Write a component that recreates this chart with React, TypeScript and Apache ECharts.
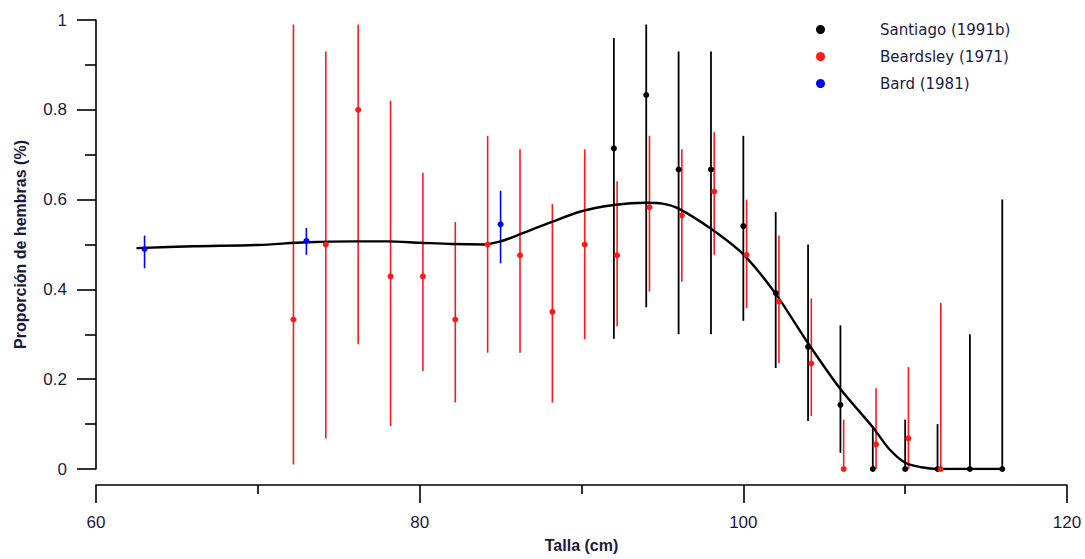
import React, { useEffect, useRef } from "react";
import * as echarts from "echarts";

// Santiago (1991b)
const santiagoX = [92, 94, 96, 98, 100, 102, 104, 106, 108, 110, 112, 114, 116];
const santiagoY = [0.714, 0.833, 0.667, 0.667, 0.541, 0.392, 0.272, 0.143, 0, 0, 0, 0, 0];
const santiagoLo = [0.29, 0.36, 0.3, 0.3, 0.33, 0.225, 0.107, 0.036, 0, 0, 0, 0, 0];
const santiagoHi = [0.96, 0.99, 0.93, 0.93, 0.742, 0.572, 0.5, 0.32, 0.095, 0.11, 0.1, 0.3, 0.6];

// Beardsley (1971)
const beardsleyX = [72.2, 74.2, 76.2, 78.2, 80.2, 82.2, 84.2, 86.2, 88.2, 90.2, 92.2, 94.2, 96.2, 98.2, 100.2, 102.2, 104.2, 106.2, 108.2, 110.2, 112.2];
const beardsleyY = [0.333, 0.5, 0.8, 0.429, 0.429, 0.333, 0.5, 0.476, 0.35, 0.5, 0.476, 0.583, 0.565, 0.618, 0.477, 0.373, 0.235, 0, 0.055, 0.068, 0];
const beardsleyLo = [0.01, 0.068, 0.278, 0.096, 0.218, 0.148, 0.259, 0.259, 0.148, 0.289, 0.318, 0.395, 0.417, 0.477, 0.358, 0.236, 0.118, 0, 0, 0, 0];
const beardsleyHi = [0.99, 0.93, 0.99, 0.82, 0.66, 0.55, 0.742, 0.712, 0.59, 0.712, 0.641, 0.742, 0.712, 0.75, 0.6, 0.52, 0.38, 0.11, 0.18, 0.227, 0.37];

// Bard (1981)
const bardX = [63, 73, 85];
const bardY = [0.49, 0.508, 0.545];
const bardLo = [0.447, 0.477, 0.458];
const bardHi = [0.52, 0.537, 0.62];

// Fitted curve
const curveX = [62.5, 66, 70, 73, 76, 78, 80, 82, 84, 85, 86, 88, 90, 92, 94, 95, 96, 98, 100, 102, 104, 106, 108, 109, 110, 111, 112, 114, 116];
const curveY = [0.492, 0.496, 0.499, 0.505, 0.507, 0.507, 0.504, 0.501, 0.5, 0.507, 0.52, 0.548, 0.574, 0.588, 0.593, 0.591, 0.58, 0.535, 0.478, 0.39, 0.28, 0.178, 0.093, 0.045, 0.014, 0.004, 0, 0, 0];

const xTicks = [60, 80, 100, 120];
const yTicks = [0, 0.2, 0.4, 0.6, 0.8, 1];

const names = ["Santiago (1991b)", "Beardsley (1971)", "Bard (1981)"];
const colors = ["#000000", "#ff1a1a", "#0000ff"];

const tickFont = '"Liberation Sans Narrow", "Arial Narrow", "Liberation Sans", Arial, sans-serif';

export default function App() {
  const ref = useRef<HTMLDivElement>(null);
  useEffect(() => {
    document.body.style.margin = "0";
    const chart = echarts.init(ref.current!, null, { renderer: "svg" });

    const errBar = (name: string, xs: number[], lo: number[], hi: number[], color: string, width: number) => ({
      type: "custom",
      name,
      z: 2,
      silent: true,
      itemStyle: { color },
      data: xs.map((x, i) => [x, lo[i], hi[i]]),
      encode: { x: 0, y: [1, 2] },
      renderItem: (_p: any, api: any) => {
        const a = api.coord([api.value(0), api.value(1)]);
        const b = api.coord([api.value(0), api.value(2)]);
        return {
          type: "line",
          shape: { x1: a[0], y1: a[1], x2: b[0], y2: b[1] },
          style: { stroke: color, lineWidth: width },
        };
      },
    });

    const scatter = (name: string, xs: number[], ys: number[], color: string) => ({
      type: "scatter",
      name,
      z: 5,
      symbol: "circle",
      symbolSize: 6,
      itemStyle: { color, opacity: 1 },
      data: xs.map((x, i) => [x, ys[i]]),
    });

    const lineStyle = { color: "#000", width: 1.6 };

    chart.setOption({
      animation: false,
      grid: { left: 96, right: 18, top: 20, bottom: 90, containLabel: false },
      legend: {
        orient: "vertical",
        left: 811,
        top: 17,
        itemWidth: 9,
        itemHeight: 9,
        itemGap: 12,
        selectedMode: false,
        data: names.map((n) => ({ name: n, icon: "circle", itemStyle: { opacity: 1 } })),
        textStyle: {
          fontFamily: '"DejaVu Sans", sans-serif',
          fontSize: 15,
          color: "#1a1a40",
          padding: [0, 0, 0, 50],
        },
      },
      xAxis: {
        type: "value",
        min: xTicks[0],
        max: xTicks[xTicks.length - 1],
        interval: 20,
        offset: 16,
        name: "Talla (cm)",
        nameLocation: "middle",
        nameGap: 52,
        nameTextStyle: { fontFamily: tickFont, fontSize: 16, fontWeight: "bold", color: "#1a1a40" },
        axisLine: { show: true, onZero: false, lineStyle },
        axisTick: { show: true, inside: false, length: 18, lineStyle },
        minorTick: { show: true, splitNumber: 2, length: 9, lineStyle },
        splitLine: { show: false },
        minorSplitLine: { show: false },
        axisLabel: { margin: 29, fontFamily: tickFont, fontSize: 17, color: "#1a1a40" },
      },
      yAxis: {
        type: "value",
        min: yTicks[0],
        max: yTicks[yTicks.length - 1],
        interval: 0.2,
        name: "Proporción de hembras (%)",
        nameLocation: "middle",
        nameGap: 68,
        nameTextStyle: { fontFamily: tickFont, fontSize: 16, fontWeight: "bold", color: "#1a1a40" },
        axisLine: { show: true, onZero: false, lineStyle },
        axisTick: { show: true, inside: false, length: 19, lineStyle },
        minorTick: { show: true, splitNumber: 2, length: 11, lineStyle },
        splitLine: { show: false },
        minorSplitLine: { show: false },
        axisLabel: { margin: 29, fontFamily: tickFont, fontSize: 17, color: "#1a1a40" },
      },
      series: [
        scatter(names[0], santiagoX, santiagoY, colors[0]),
        scatter(names[1], beardsleyX, beardsleyY, colors[1]),
        scatter(names[2], bardX, bardY, colors[2]),
        errBar(names[0], santiagoX, santiagoLo, santiagoHi, colors[0], 1.8),
        errBar(names[1], beardsleyX, beardsleyLo, beardsleyHi, colors[1], 1.6),
        errBar(names[2], bardX, bardLo, bardHi, colors[2], 1.6),
        {
          type: "line",
          name: "curve",
          z: 4,
          smooth: 0.3,
          showSymbol: false,
          symbol: "none",
          silent: true,
          lineStyle: { color: "#000", width: 2.4 },
          data: curveX.map((x, i) => [x, curveY[i]]),
        },
      ],
    });
    return () => chart.dispose();
  }, []);
  return <div ref={ref} style={{ width: 1085, height: 559 }} />;
}
